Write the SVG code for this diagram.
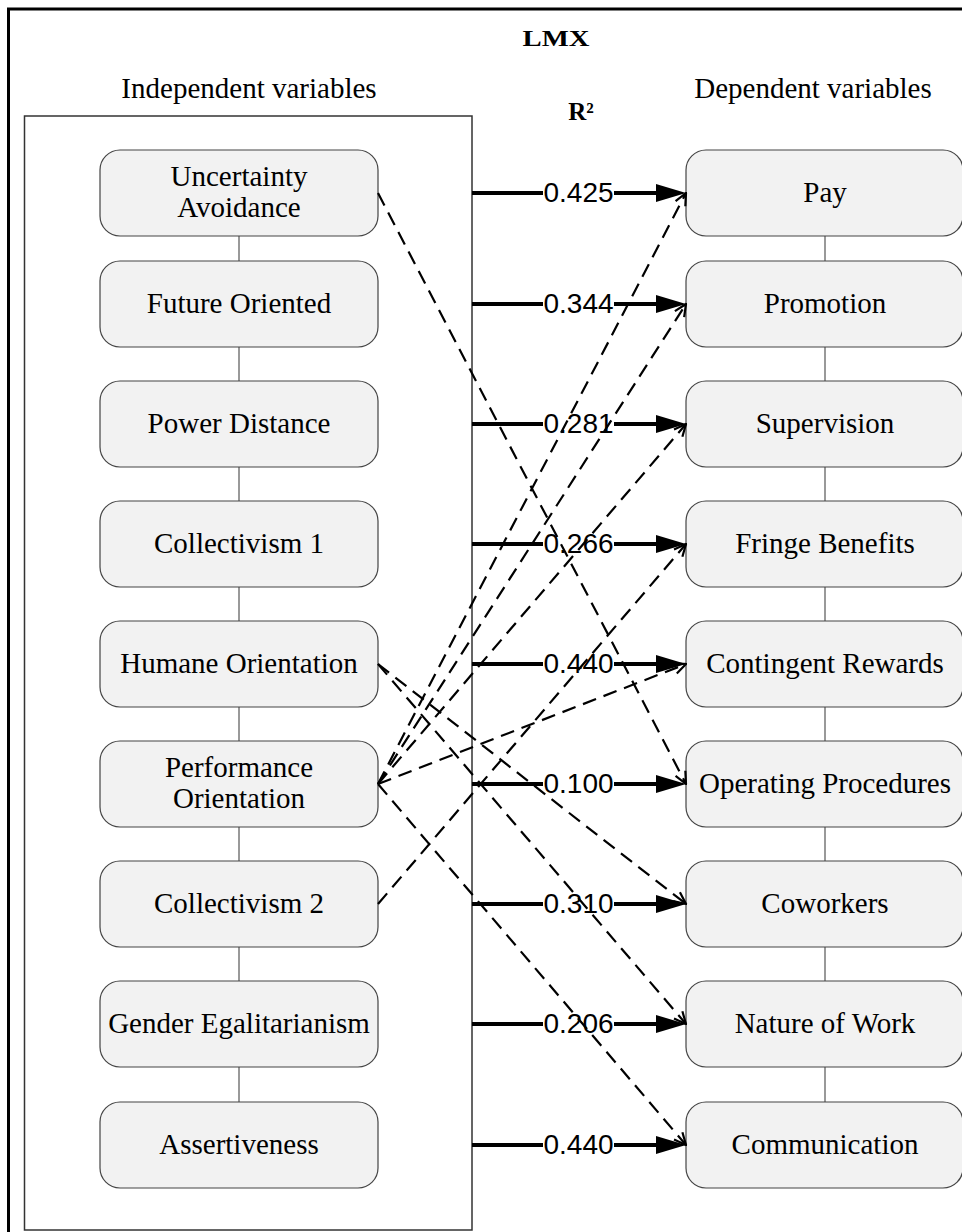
<svg xmlns="http://www.w3.org/2000/svg" width="962" height="1232" viewBox="0 0 962 1232">
<defs>
<style>
.node{fill:#f2f2f2;stroke:#444;stroke-width:1.2}
.nt{font-family:"Liberation Serif","Times New Roman",serif;font-size:29px;fill:#000;text-anchor:middle}
.hd{font-family:"Liberation Serif","Times New Roman",serif;font-size:29px;fill:#000;text-anchor:middle}
.bt{font-family:"Liberation Serif","Times New Roman",serif;font-weight:bold;fill:#000;text-anchor:middle}
.lbl{font-family:"Liberation Sans",Arial,sans-serif;font-size:28px;fill:#000;text-anchor:middle}
.lblbg{fill:#fff}
.thick{stroke:#000;stroke-width:4;fill:none}
.ahead{fill:#000}
.dash{stroke:#000;stroke-width:2.2;fill:none;stroke-dasharray:14 8;marker-end:url(#open)}
.link{stroke:#555;stroke-width:1.2}
</style>
<marker id="open" viewBox="0 0 14 14" refX="13" refY="7" markerWidth="14" markerHeight="14" markerUnits="userSpaceOnUse" orient="auto">
<path d="M1,1.5 L13,7 L1,12.5" fill="none" stroke="#000" stroke-width="2.2"/>
</marker>
</defs>
<rect x="0" y="0" width="962" height="1232" fill="#fff"/>
<rect x="8.5" y="9" width="1000" height="1300" fill="none" stroke="#000" stroke-width="3"/>
<text class="bt" x="556" y="46" font-size="24" textLength="67" lengthAdjust="spacingAndGlyphs">LMX</text>
<text class="hd" x="249" y="98">Independent variables</text>
<text class="hd" x="813" y="98">Dependent variables</text>
<text class="bt" x="581" y="120" font-size="25">R²</text>
<rect x="24.5" y="116" width="447.5" height="1114" fill="none" stroke="#333" stroke-width="1.5"/>
<g id="links">
<line class="link" x1="239" y1="236" x2="239" y2="261"/>
<line class="link" x1="239" y1="347" x2="239" y2="381"/>
<line class="link" x1="239" y1="467" x2="239" y2="501"/>
<line class="link" x1="239" y1="587" x2="239" y2="621"/>
<line class="link" x1="239" y1="707" x2="239" y2="741"/>
<line class="link" x1="239" y1="827" x2="239" y2="861"/>
<line class="link" x1="239" y1="947" x2="239" y2="981"/>
<line class="link" x1="239" y1="1067" x2="239" y2="1102"/>
<line class="link" x1="825" y1="236" x2="825" y2="261"/>
<line class="link" x1="825" y1="347" x2="825" y2="381"/>
<line class="link" x1="825" y1="467" x2="825" y2="501"/>
<line class="link" x1="825" y1="587" x2="825" y2="621"/>
<line class="link" x1="825" y1="707" x2="825" y2="741"/>
<line class="link" x1="825" y1="827" x2="825" y2="861"/>
<line class="link" x1="825" y1="947" x2="825" y2="981"/>
<line class="link" x1="825" y1="1067" x2="825" y2="1102"/>
</g>
<g id="n-uncertainty"><rect class="node" x="100" y="150" width="278" height="86" rx="20"/><text class="nt" x="239" y="186">Uncertainty</text><text class="nt" x="239" y="217">Avoidance</text></g>
<g id="n-future"><rect class="node" x="100" y="261" width="278" height="86" rx="20"/><text class="nt" x="239" y="313">Future Oriented</text></g>
<g id="n-power"><rect class="node" x="100" y="381" width="278" height="86" rx="20"/><text class="nt" x="239" y="433">Power Distance</text></g>
<g id="n-coll1"><rect class="node" x="100" y="501" width="278" height="86" rx="20"/><text class="nt" x="239" y="553">Collectivism 1</text></g>
<g id="n-humane"><rect class="node" x="100" y="621" width="278" height="86" rx="20"/><text class="nt" x="239" y="673">Humane Orientation</text></g>
<g id="n-perf"><rect class="node" x="100" y="741" width="278" height="86" rx="20"/><text class="nt" x="239" y="777">Performance</text><text class="nt" x="239" y="808">Orientation</text></g>
<g id="n-coll2"><rect class="node" x="100" y="861" width="278" height="86" rx="20"/><text class="nt" x="239" y="913">Collectivism 2</text></g>
<g id="n-gender"><rect class="node" x="100" y="981" width="278" height="86" rx="20"/><text class="nt" x="239" y="1033">Gender Egalitarianism</text></g>
<g id="n-assert"><rect class="node" x="100" y="1102" width="278" height="86" rx="20"/><text class="nt" x="239" y="1154">Assertiveness</text></g>
<g id="n-pay"><rect class="node" x="686" y="150" width="277" height="86" rx="20"/><text class="nt" x="825" y="202">Pay</text></g>
<g id="n-promotion"><rect class="node" x="686" y="261" width="277" height="86" rx="20"/><text class="nt" x="825" y="313">Promotion</text></g>
<g id="n-supervision"><rect class="node" x="686" y="381" width="277" height="86" rx="20"/><text class="nt" x="825" y="433">Supervision</text></g>
<g id="n-fringe"><rect class="node" x="686" y="501" width="277" height="86" rx="20"/><text class="nt" x="825" y="553">Fringe Benefits</text></g>
<g id="n-contingent"><rect class="node" x="686" y="621" width="277" height="86" rx="20"/><text class="nt" x="825" y="673">Contingent Rewards</text></g>
<g id="n-operating"><rect class="node" x="686" y="741" width="277" height="86" rx="20"/><text class="nt" x="825" y="793">Operating Procedures</text></g>
<g id="n-coworkers"><rect class="node" x="686" y="861" width="277" height="86" rx="20"/><text class="nt" x="825" y="913">Coworkers</text></g>
<g id="n-nature"><rect class="node" x="686" y="981" width="277" height="86" rx="20"/><text class="nt" x="825" y="1033">Nature of Work</text></g>
<g id="n-communication"><rect class="node" x="686" y="1102" width="277" height="86" rx="20"/><text class="nt" x="825" y="1154">Communication</text></g>
<g id="connectors">
<g id="r2-arrows">
<line class="thick" x1="472" y1="193" x2="658" y2="193"/><polygon class="ahead" points="656,184 686,193 656,202"/><rect class="lblbg" x="543" y="180" width="71" height="26"/><text class="lbl" x="578.5" y="202">0.425</text>
<line class="thick" x1="472" y1="304" x2="658" y2="304"/><polygon class="ahead" points="656,295 686,304 656,313"/><rect class="lblbg" x="543" y="291" width="71" height="26"/><text class="lbl" x="578.5" y="313">0.344</text>
<line class="thick" x1="472" y1="424" x2="658" y2="424"/><polygon class="ahead" points="656,415 686,424 656,433"/><rect class="lblbg" x="543" y="411" width="71" height="26"/><text class="lbl" x="578.5" y="433">0.281</text>
<line class="thick" x1="472" y1="544" x2="658" y2="544"/><polygon class="ahead" points="656,535 686,544 656,553"/><rect class="lblbg" x="543" y="531" width="71" height="26"/><text class="lbl" x="578.5" y="553">0.266</text>
<line class="thick" x1="472" y1="664" x2="658" y2="664"/><polygon class="ahead" points="656,655 686,664 656,673"/><rect class="lblbg" x="543" y="651" width="71" height="26"/><text class="lbl" x="578.5" y="673">0.440</text>
<line class="thick" x1="472" y1="784" x2="658" y2="784"/><polygon class="ahead" points="656,775 686,784 656,793"/><rect class="lblbg" x="543" y="771" width="71" height="26"/><text class="lbl" x="578.5" y="793">0.100</text>
<line class="thick" x1="472" y1="904" x2="658" y2="904"/><polygon class="ahead" points="656,895 686,904 656,913"/><rect class="lblbg" x="543" y="891" width="71" height="26"/><text class="lbl" x="578.5" y="913">0.310</text>
<line class="thick" x1="472" y1="1024" x2="658" y2="1024"/><polygon class="ahead" points="656,1015 686,1024 656,1033"/><rect class="lblbg" x="543" y="1011" width="71" height="26"/><text class="lbl" x="578.5" y="1033">0.206</text>
<line class="thick" x1="472" y1="1145" x2="658" y2="1145"/><polygon class="ahead" points="656,1136 686,1145 656,1154"/><rect class="lblbg" x="543" y="1132" width="71" height="26"/><text class="lbl" x="578.5" y="1154">0.440</text>
</g>
<g id="dashed">
<line class="dash" x1="378" y1="193" x2="686" y2="784"/>
<line class="dash" x1="378" y1="784" x2="686" y2="193"/>
<line class="dash" x1="378" y1="784" x2="686" y2="304"/>
<line class="dash" x1="378" y1="784" x2="686" y2="424"/>
<line class="dash" x1="378" y1="904" x2="686" y2="544"/>
<line class="dash" x1="378" y1="784" x2="686" y2="664"/>
<line class="dash" x1="378" y1="664" x2="686" y2="904"/>
<line class="dash" x1="378" y1="664" x2="686" y2="1024"/>
<line class="dash" x1="378" y1="784" x2="686" y2="1145"/>
</g>
</g>
</svg>
